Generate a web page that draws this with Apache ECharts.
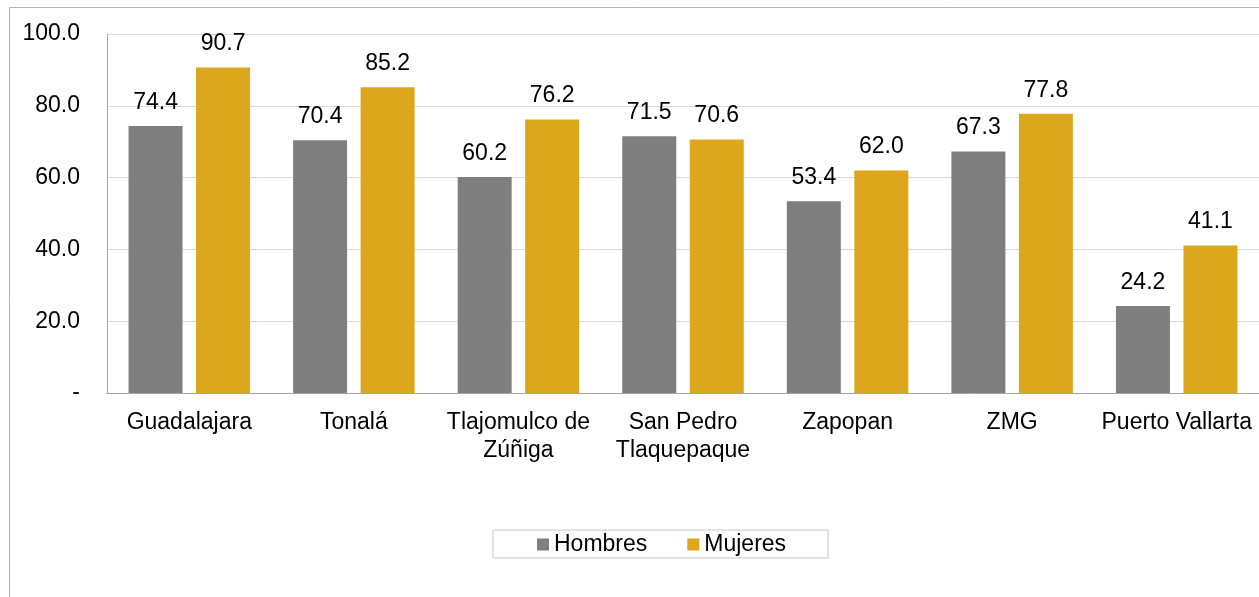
<!DOCTYPE html>
<html><head><meta charset="utf-8">
<script src="https://cdn.jsdelivr.net/npm/echarts@6/dist/echarts.min.js"></script>
<style>html,body{margin:0;padding:0;background:#fff}#c{width:1259px;height:597px}</style>
</head><body><div id="c"></div>
<script>
const categories = ['Guadalajara', 'Tonalá', 'Tlajomulco de\nZúñiga', 'San Pedro\nTlaquepaque', 'Zapopan', 'ZMG', 'Puerto Vallarta'];
const hombres = [74.4, 70.4, 60.2, 71.5, 53.4, 67.3, 24.2];
const mujeres = [90.7, 85.2, 76.2, 70.6, 62.0, 77.8, 41.1];
const seriesNames = ['Hombres', 'Mujeres'];

const FONT = "'Liberation Sans', Arial, sans-serif";
const chart = echarts.init(document.getElementById('c'), null, {renderer: 'canvas'});
const labelCfg = {show: true, position: 'top', distance: 12, color: '#000', fontSize: 23, fontFamily: FONT,
  formatter: p => p.value.toFixed(1)};
chart.setOption({
  animation: false,
  backgroundColor: '#fff',
  graphic: [{type: 'rect', shape: {x: 9.5, y: 7.5, width: 1400, height: 800},
    style: {fill: 'none', stroke: '#b3b3b3', lineWidth: 1}, silent: true}],
  grid: {left: 107, top: 34, right: 0, bottom: 204, containLabel: false},
  legend: {
    data: seriesNames, left: 493, top: 530, orient: 'horizontal',
    borderColor: '#c8c8c8', borderWidth: 1, padding: [3, 42, 2, 44],
    itemWidth: 12, itemHeight: 12, itemGap: 40,
    icon: 'rect',
    textStyle: {fontSize: 23, fontFamily: FONT, color: '#000'}
  },
  xAxis: {
    type: 'category', data: categories,
    axisLine: {show: true, lineStyle: {color: '#a6a6a6', width: 1}},
    axisTick: {show: false},
    axisLabel: {fontSize: 23, fontFamily: FONT, color: '#000', margin: 16, lineHeight: 28, interval: 0}
  },
  yAxis: {
    type: 'value', min: 0, max: 100, interval: 20,
    axisLine: {show: true, lineStyle: {color: '#a6a6a6', width: 1}},
    axisTick: {show: false},
    splitLine: {show: true, lineStyle: {color: '#d9d9d9', width: 1}},
    axisLabel: {fontSize: 23, fontFamily: FONT, color: '#000', margin: 27, padding: [4, 0, 0, 0],
      formatter: v => v === 0 ? '-' : v.toFixed(1)}
  },
  series: [
    {name: seriesNames[0], type: 'bar', data: hombres, barWidth: 54, barGap: '25%',
      itemStyle: {color: '#7f7f7f'}, label: labelCfg},
    {name: seriesNames[1], type: 'bar', data: mujeres, barWidth: 54,
      itemStyle: {color: '#dca71c'}, label: labelCfg}
  ]
});
</script></body></html>
